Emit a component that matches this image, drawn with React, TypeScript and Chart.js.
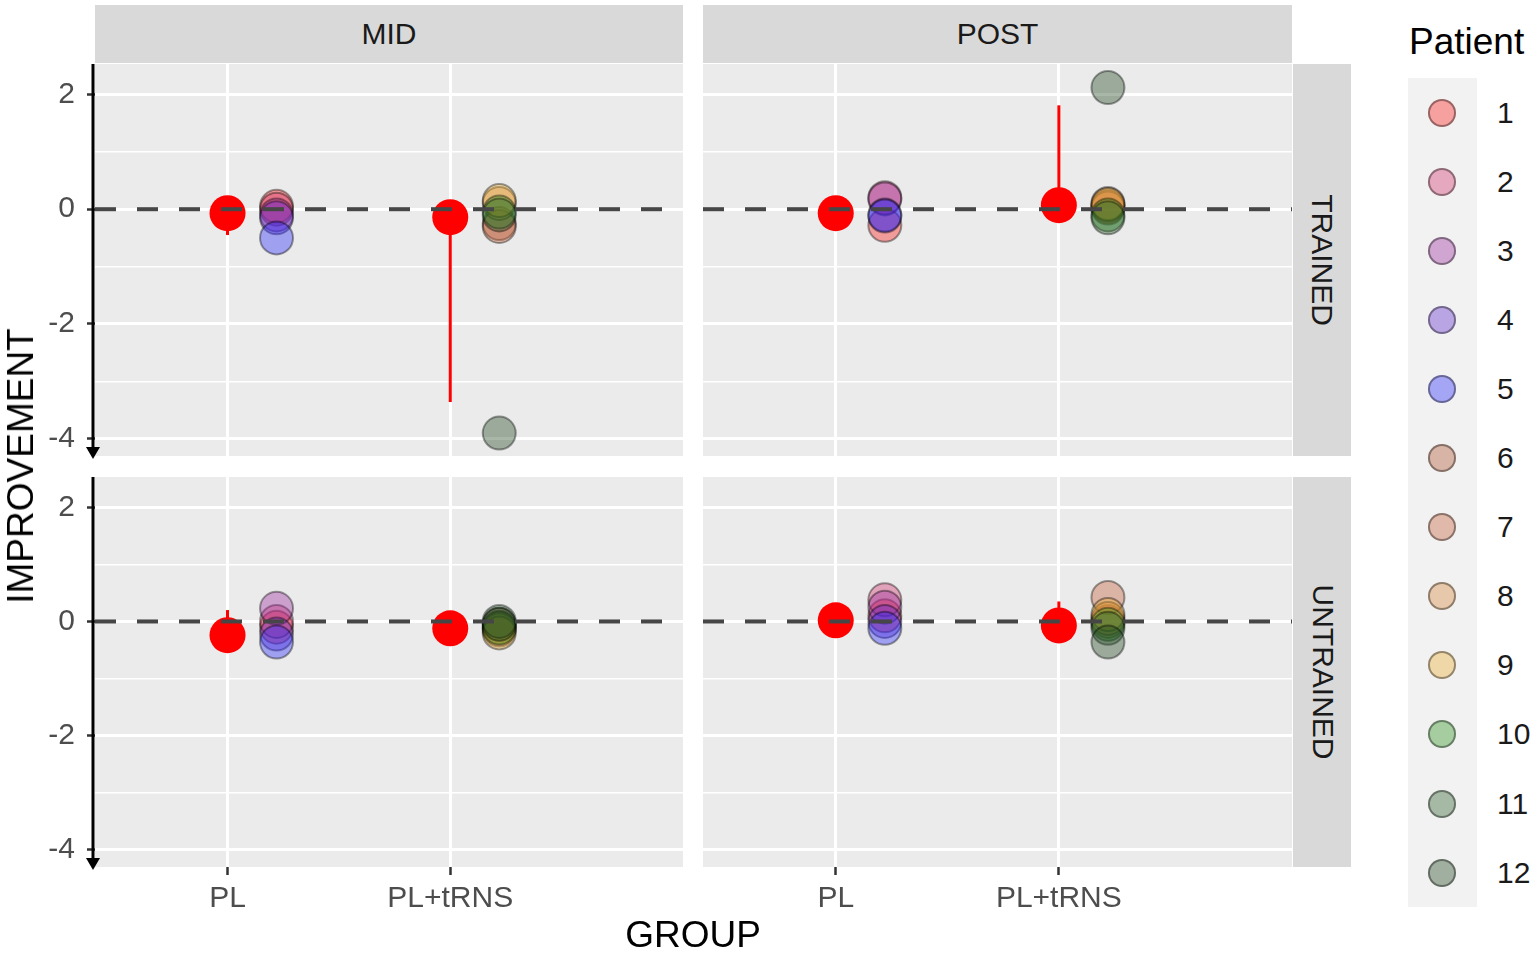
import { useEffect, useRef } from 'react'
import { Chart, registerables } from 'chart.js'

Chart.register(...registerables)

const FONT = "'Liberation Sans', Arial, Helvetica, sans-serif"
Chart.defaults.font.family = FONT

const PATIENTS = ['1', '2', '3', '4', '5', '6', '7', '8', '9', '10', '11', '12']
const PATIENT_RGB = [
  '255,26,26', '210,47,105', '153,39,158', '92,39,205', '39,39,250', '171,79,39',
  '197,92,53', '216,132,53', '237,171,47', '39,145,26', '39,92,39', '26,66,26',
]
const GROUPS = ['PL', 'PL+tRNS']
// index into GROUPS for each patient
const PATIENT_GROUP = [0, 0, 0, 0, 0, 1, 1, 1, 1, 1, 1, 1]

// improvement per patient, one array per facet
const MID_TRAINED = [0.05, 0.0, -0.1, -0.15, -0.5, -0.25, -0.3, 0.1, 0.15, -0.05, -0.1, -3.9]
const POST_TRAINED = [-0.28, 0.2, 0.18, -0.1, -0.12, 0.05, 0.02, 0.1, 0.08, -0.1, -0.15, 2.12]
const MID_UNTRAINED = [-0.1, 0.0, 0.23, -0.22, -0.36, -0.05, -0.1, -0.15, -0.2, -0.12, 0.0, -0.05]
const POST_UNTRAINED = [0.1, 0.38, 0.25, 0.0, -0.12, 0.0, 0.42, 0.05, 0.12, -0.05, -0.12, -0.36]

// group summary (centre + interval), per group
const MID_TRAINED_CENTER = [-0.07, -0.14]
const MID_TRAINED_LOW = [-0.45, -3.36]
const MID_TRAINED_HIGH = [0.05, 0.15]
const POST_TRAINED_CENTER = [-0.07, 0.07]
const POST_TRAINED_LOW = [-0.26, -0.14]
const POST_TRAINED_HIGH = [0.18, 1.81]
const MID_UNTRAINED_CENTER = [-0.24, -0.12]
const MID_UNTRAINED_LOW = [-0.36, -0.19]
const MID_UNTRAINED_HIGH = [0.2, 0.0]
const POST_UNTRAINED_CENTER = [0.02, -0.07]
const POST_UNTRAINED_LOW = [-0.12, -0.3]
const POST_UNTRAINED_HIGH = [0.3, 0.35]

const Y_TICKS = [-4, -3, -2, -1, 0, 1, 2]
const Y_MIN = -4.3
const Y_MAX = 2.53
const X_MIN = 0.405
const X_MAX = 3.045
const DODGE = 0.22
const HLINE_Y = 0
const ALPHA = 0.38

type PanelProps = {
  values: number[]
  center: number[]
  low: number[]
  high: number[]
  showY: boolean
  showX: boolean
}

function Panel({ values, center, low, high, showY, showX }: PanelProps) {
  const canvasRef = useRef<HTMLCanvasElement>(null)
  const chartRef = useRef<Chart | null>(null)

  useEffect(() => {
    const canvas = canvasRef.current
    if (!canvas) return
    chartRef.current?.destroy()

    const panelPlugin = {
      id: 'panel',
      beforeDraw(chart: any) {
        const { ctx, chartArea } = chart
        ctx.save()
        ctx.fillStyle = '#ebebeb'
        ctx.fillRect(chartArea.left, chartArea.top, chartArea.width, chartArea.height)
        ctx.restore()
      },
      afterDatasetsDraw(chart: any) {
        const { ctx, chartArea } = chart
        const y = chart.scales.y.getPixelForValue(HLINE_Y)
        ctx.save()
        ctx.strokeStyle = '#464646'
        ctx.lineWidth = 4
        ctx.setLineDash([21, 21])
        ctx.beginPath()
        ctx.moveTo(chartArea.left, y)
        ctx.lineTo(chartArea.right, y)
        ctx.stroke()
        ctx.restore()
      },
      afterDraw(chart: any) {
        if (!showY) return
        const { ctx, chartArea } = chart
        const x = chartArea.left - 2
        ctx.save()
        ctx.strokeStyle = '#000'
        ctx.lineWidth = 3
        ctx.beginPath()
        ctx.moveTo(x, chartArea.top)
        ctx.lineTo(x, chartArea.bottom - 6)
        ctx.stroke()
        ctx.fillStyle = '#000'
        ctx.beginPath()
        ctx.moveTo(x - 7, chartArea.bottom - 9)
        ctx.lineTo(x + 7, chartArea.bottom - 9)
        ctx.lineTo(x, chartArea.bottom + 3)
        ctx.closePath()
        ctx.fill()
        ctx.restore()
      },
    }

    const errorBars = GROUPS.map((g, i) => ({
      label: g + ' interval',
      data: [{ x: i + 1, y: low[i] }, { x: i + 1, y: high[i] }],
      showLine: true,
      borderColor: '#ff0000',
      borderWidth: 3,
      pointRadius: 0,
      order: 3,
    }))

    chartRef.current = new Chart(canvas, {
      type: 'scatter',
      data: {
        datasets: [
          {
            label: 'Patient',
            data: values.map((v, i) => ({ x: PATIENT_GROUP[i] + 1 + DODGE, y: v })),
            backgroundColor: PATIENTS.map((_, i) => `rgba(${PATIENT_RGB[i]},${ALPHA})`),
            borderColor: 'rgba(0,0,0,0.38)',
            borderWidth: 2,
            pointRadius: 16.5,
            order: 1,
          },
          {
            label: 'centre',
            data: GROUPS.map((_, i) => ({ x: i + 1, y: center[i] })),
            backgroundColor: '#ff0000',
            borderWidth: 0,
            pointRadius: 18,
            order: 2,
          },
          ...errorBars,
        ] as any,
      },
      options: {
        responsive: true,
        maintainAspectRatio: false,
        animation: false,
        events: [],
        layout: { padding: 0, autoPadding: false },
        plugins: { legend: { display: false }, tooltip: { enabled: false } },
        scales: {
          x: {
            type: 'linear',
            min: X_MIN,
            max: X_MAX,
            bounds: 'data',
            afterBuildTicks: (s: any) => {
              s.ticks = GROUPS.map((_, i) => ({ value: i + 1 }))
            },
            afterFit: (s: any) => {
              s.height = showX ? 60 : 4
              s.paddingLeft = 0
              s.paddingRight = 0
            },
            ticks: {
              display: showX,
              autoSkip: false,
              maxRotation: 0,
              padding: 6,
              color: '#4d4d4d',
              font: { family: FONT, size: 30 },
              callback: (_v: any, i: number) => GROUPS[i],
            },
            grid: {
              color: '#ffffff',
              lineWidth: 3,
              drawTicks: showX,
              tickLength: 8,
              tickColor: '#333333',
              tickWidth: 2.5,
            },
            border: { display: false },
          },
          y: {
            type: 'linear',
            min: Y_MIN,
            max: Y_MAX,
            bounds: 'data',
            afterBuildTicks: (s: any) => {
              s.ticks = Y_TICKS.map((v) => ({ value: v }))
            },
            afterFit: (s: any) => {
              s.width = showY ? 95 : 0
              s.paddingTop = 0
              s.paddingBottom = 0
            },
            ticks: {
              display: showY,
              padding: 12,
              color: '#4d4d4d',
              font: { family: FONT, size: 30 },
              callback: (v: any) => (Number(v) % 2 === 0 ? String(v) : ''),
            },
            grid: {
              color: '#ffffff',
              lineWidth: (ctx: any) => (ctx.tick && ctx.tick.value % 2 === 0 ? 3 : 1.5),
              drawTicks: showY,
              tickLength: 8,
              tickWidth: 2.5,
              tickColor: (ctx: any) =>
                ctx.tick && ctx.tick.value % 2 === 0 ? '#333333' : 'rgba(0,0,0,0)',
            },
            border: { display: false },
          },
        },
      } as any,
      plugins: [panelPlugin],
    })
    return () => {
      chartRef.current?.destroy()
    }
  }, [values, center, low, high, showY, showX])

  return <canvas ref={canvasRef} />
}

const stripStyle: React.CSSProperties = {
  position: 'absolute',
  background: '#d9d9d9',
  color: '#1a1a1a',
  fontSize: 30,
  display: 'flex',
  alignItems: 'center',
  justifyContent: 'center',
  whiteSpace: 'nowrap',
}

function Box({ left, top, width, height, children }: any) {
  return <div style={{ position: 'absolute', left, top, width, height }}>{children}</div>
}

export default function App() {
  return (
    <div
      style={{
        position: 'absolute',
        left: 0,
        top: 0,
        width: 1536,
        height: 956,
        background: '#fff',
        fontFamily: FONT,
        overflow: 'hidden',
      }}
    >
      <div style={{ ...stripStyle, left: 95, top: 5, width: 588, height: 58 }}>MID</div>
      <div style={{ ...stripStyle, left: 703, top: 5, width: 589, height: 58 }}>POST</div>
      <div style={{ ...stripStyle, left: 1293, top: 64, width: 58, height: 392 }}>
        <span style={{ transform: 'rotate(90deg)' }}>TRAINED</span>
      </div>
      <div style={{ ...stripStyle, left: 1293, top: 477, width: 58, height: 390 }}>
        <span style={{ transform: 'rotate(90deg)' }}>UNTRAINED</span>
      </div>

      <Box left={0} top={64} width={683} height={396}>
        <Panel values={MID_TRAINED} center={MID_TRAINED_CENTER} low={MID_TRAINED_LOW} high={MID_TRAINED_HIGH} showY showX={false} />
      </Box>
      <Box left={703} top={64} width={589} height={396}>
        <Panel values={POST_TRAINED} center={POST_TRAINED_CENTER} low={POST_TRAINED_LOW} high={POST_TRAINED_HIGH} showY={false} showX={false} />
      </Box>
      <Box left={0} top={477} width={683} height={450}>
        <Panel values={MID_UNTRAINED} center={MID_UNTRAINED_CENTER} low={MID_UNTRAINED_LOW} high={MID_UNTRAINED_HIGH} showY showX />
      </Box>
      <Box left={703} top={477} width={589} height={450}>
        <Panel values={POST_UNTRAINED} center={POST_UNTRAINED_CENTER} low={POST_UNTRAINED_LOW} high={POST_UNTRAINED_HIGH} showY={false} showX />
      </Box>

      <div
        style={{
          position: 'absolute',
          left: 21,
          top: 466,
          fontSize: 37,
          color: '#000',
          whiteSpace: 'nowrap',
          transform: 'translate(-50%, -50%) rotate(-90deg)',
        }}
      >
        IMPROVEMENT
      </div>
      <div
        style={{
          position: 'absolute',
          left: 693,
          top: 935,
          fontSize: 37,
          color: '#000',
          whiteSpace: 'nowrap',
          transform: 'translate(-50%, -50%)',
        }}
      >
        GROUP
      </div>

      <div style={{ position: 'absolute', left: 1409, top: 22, fontSize: 37, lineHeight: '40px', color: '#000' }}>
        Patient
      </div>
      <div style={{ position: 'absolute', left: 1408, top: 78, width: 69, height: 829, background: '#f2f2f2' }} />
      {PATIENTS.map((p, i) => (
        <div
          key={p}
          style={{ position: 'absolute', left: 1408, top: 78 + i * 69.1, height: 69.1, width: 128, display: 'flex', alignItems: 'center' }}
        >
          <div
            style={{
              marginLeft: 20,
              width: 24,
              height: 24,
              flexShrink: 0,
              borderRadius: '50%',
              background: `rgba(${PATIENT_RGB[i]},${ALPHA})`,
              border: '2px solid rgba(0,0,0,0.38)',
            }}
          />
          <div style={{ marginLeft: 41, fontSize: 30, color: '#1a1a1a', whiteSpace: 'nowrap' }}>{p}</div>
        </div>
      ))}
    </div>
  )
}
